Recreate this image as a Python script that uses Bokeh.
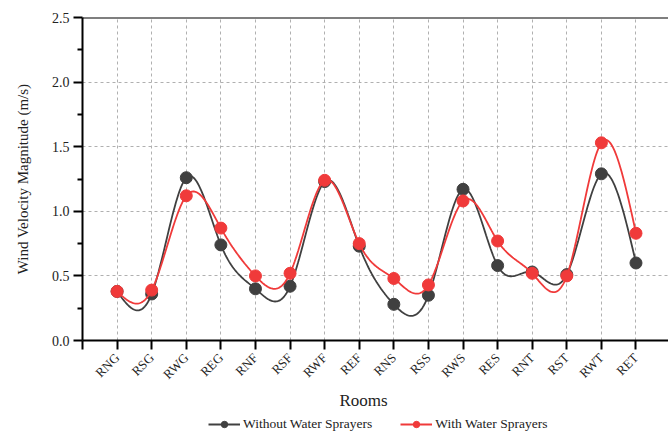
import numpy as np
from bokeh.plotting import figure
from bokeh.layouts import column
from bokeh.models import (Range1d, FixedTicker, Legend, LegendItem, Span, Label)
from bokeh.embed import file_html
from bokeh.resources import INLINE

rooms = ["RNG", "RSG", "RWG", "REG", "RNF", "RSF", "RWF", "REF",
         "RNS", "RSS", "RWS", "RES", "RNT", "RST", "RWT", "RET"]
without_sprayers = [0.38, 0.36, 1.26, 0.74, 0.40, 0.42, 1.23, 0.73,
                    0.28, 0.35, 1.17, 0.58, 0.53, 0.51, 1.29, 0.60]
with_sprayers = [0.38, 0.39, 1.12, 0.87, 0.50, 0.52, 1.24, 0.75,
                 0.48, 0.43, 1.08, 0.77, 0.52, 0.50, 1.53, 0.83]
y_ticks = [0.0, 0.5, 1.0, 1.5, 2.0, 2.5]
series_names = ["Without Water Sprayers", "With Water Sprayers"]

BLACK = "#404040"
RED = "#f03a3a"
FONT = "Liberation Serif"


def natural_spline(x, y, n=30):
    x = np.asarray(x, float)
    y = np.asarray(y, float)
    k = len(x)
    h = np.diff(x)
    A = np.zeros((k, k))
    b = np.zeros(k)
    A[0, 0] = 1
    A[-1, -1] = 1
    for i in range(1, k - 1):
        A[i, i - 1] = h[i - 1]
        A[i, i] = 2 * (h[i - 1] + h[i])
        A[i, i + 1] = h[i]
        b[i] = 3 * ((y[i + 1] - y[i]) / h[i] - (y[i] - y[i - 1]) / h[i - 1])
    c = np.linalg.solve(A, b)
    xs, ys = [], []
    for i in range(k - 1):
        bb = (y[i + 1] - y[i]) / h[i] - h[i] * (2 * c[i] + c[i + 1]) / 3
        d = (c[i + 1] - c[i]) / (3 * h[i])
        t = np.linspace(0, h[i], n, endpoint=(i == k - 2))
        xs.extend(x[i] + t)
        ys.extend(y[i] + bb * t + c[i] * t ** 2 + d * t ** 3)
    return xs, ys


xpos = list(range(1, len(rooms) + 1))

p = figure(width=668, height=390, output_backend="svg", toolbar_location=None,
           x_range=Range1d(0, 16.94), y_range=Range1d(0, 2.5),
           min_border_left=82, min_border_right=0, min_border_top=17,
           min_border_bottom=50,
           background_fill_color="white", border_fill_color="white")
p.outline_line_color = None

# axes styling
for ax in (p.xaxis[0], p.yaxis[0]):
    ax.axis_line_width = 2
    ax.axis_line_color = "black"
    ax.major_tick_line_width = 2
    ax.major_tick_line_color = "black"
    ax.major_tick_in = 0
    ax.major_tick_out = 9
    ax.major_label_text_font = FONT
    ax.major_label_text_color = "#222222"
    ax.axis_label_text_font = FONT
    ax.axis_label_text_font_style = "normal"
    ax.axis_label_text_color = "#222222"

p.xaxis.ticker = FixedTicker(ticks=list(range(0, 17)), minor_ticks=[])
p.xaxis.major_label_overrides = {0: ""} | {i + 1: r for i, r in enumerate(rooms)}
p.xaxis.major_label_orientation = np.pi / 4
p.xaxis.major_label_text_font_size = "13px"
p.xaxis.major_label_standoff = 6
p.xaxis.minor_tick_line_color = None

p.yaxis.ticker = FixedTicker(ticks=y_ticks,
                             minor_ticks=[0.25, 0.75, 1.25, 1.75, 2.25])
p.yaxis.major_label_overrides = {v: f"{v:.1f}" for v in y_ticks}
p.yaxis.major_label_text_font_size = "14px"
p.yaxis.minor_tick_line_width = 2
p.yaxis.minor_tick_line_color = "black"
p.yaxis.minor_tick_in = 0
p.yaxis.minor_tick_out = 5
p.yaxis.axis_label = "Wind Velocity Magnitude (m/s)"
p.yaxis.axis_label_text_font_size = "15px"
p.yaxis.axis_label_standoff = 18
p.yaxis.major_label_standoff = 4

# top border
p.add_layout(Span(location=2.5, dimension="width", line_color="black",
                  line_width=2))

# grid
p.xgrid.ticker = FixedTicker(ticks=xpos)
p.ygrid.ticker = FixedTicker(ticks=[0.5, 1.0, 1.5, 2.0])
for g in (p.xgrid[0], p.ygrid[0]):
    g.grid_line_color = "#b0b0b0"
    g.grid_line_dash = "3 3"
    g.grid_line_width = 1

# series
bx, by = natural_spline(xpos, without_sprayers)
rx, ry = natural_spline(xpos, with_sprayers)
p.line(bx, by, line_color=BLACK, line_width=1.8)
p.scatter(xpos, without_sprayers, size=12, fill_color=BLACK, line_color=BLACK)
p.line(rx, ry, line_color=RED, line_width=1.8)
p.scatter(xpos, with_sprayers, size=12, fill_color=RED, line_color=RED)

# strip below: x-axis title and legend
lg = figure(width=668, height=43, output_backend="svg", toolbar_location=None,
            x_range=Range1d(100, 101), y_range=Range1d(100, 101),
            min_border_left=0, min_border_right=0, min_border_top=0,
            min_border_bottom=0, outline_line_color=None,
            background_fill_color="white", border_fill_color="white")
lg.axis.visible = False
lg.grid.visible = False
k1 = lg.line(xpos, without_sprayers, line_color=BLACK, line_width=1.8)
k1s = lg.scatter(xpos, without_sprayers, size=11, fill_color=BLACK,
                 line_color=BLACK)
k2 = lg.line(xpos, with_sprayers, line_color=RED, line_width=1.8)
k2s = lg.scatter(xpos, with_sprayers, size=11, fill_color=RED, line_color=RED)
legend = Legend(items=[LegendItem(label=series_names[0], renderers=[k1, k1s]),
                       LegendItem(label=series_names[1], renderers=[k2, k2s])],
                orientation="horizontal", location=(126, 1),
                label_text_font=FONT, label_text_font_size="13.5px",
                label_text_color="#222222",
                glyph_width=32, glyph_height=16, spacing=28,
                border_line_color=None,
                background_fill_alpha=0, padding=0, margin=0,
                label_standoff=3)
lg.add_layout(legend, "center")
lg.add_layout(Label(x=281, y=33, x_units="screen", y_units="screen",
                    text="Rooms", text_font=FONT, text_font_size="17px",
                    text_color="#222222", text_align="center",
                    text_baseline="middle"))

layout = column(p, lg, spacing=0)
open("out.html", "w").write(file_html(layout, INLINE))
